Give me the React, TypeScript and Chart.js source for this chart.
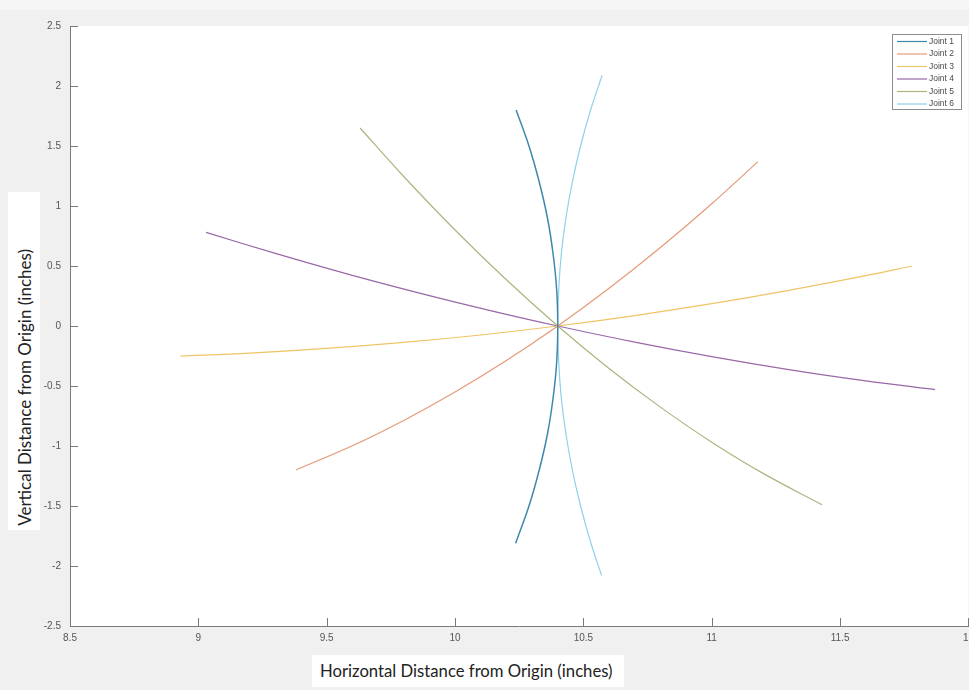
import React, { useEffect, useRef } from "react";
import { Chart, registerables } from "chart.js";

Chart.register(...registerables);

const seriesNames = ["Joint 1", "Joint 2", "Joint 3", "Joint 4", "Joint 5", "Joint 6"];
const seriesColors = ["#3f88ad", "#e49a76", "#efc466", "#9a68a8", "#aab67e", "#8fd0ea"];

const joint1X = [10.238, 10.288, 10.328, 10.36, 10.382, 10.396, 10.4, 10.396, 10.382, 10.36, 10.328, 10.288, 10.236];
const joint1Y = [1.8, 1.5, 1.2, 0.9, 0.6, 0.3, 0, -0.3, -0.6, -0.9, -1.2, -1.5, -1.81];

const joint2X = [9.38, 9.6, 9.8, 10.0, 10.2, 10.4, 10.6, 10.8, 11.0, 11.18];
const joint2Y = [-1.2, -0.998, -0.787, -0.55, -0.288, 0, 0.314, 0.654, 1.019, 1.37];

const joint3X = [8.93, 9.2, 9.5, 9.8, 10.1, 10.4, 10.7, 11.0, 11.3, 11.6, 11.78];
const joint3Y = [-0.25, -0.226, -0.187, -0.137, -0.075, 0, 0.087, 0.186, 0.297, 0.42, 0.5];

const joint4X = [9.03, 9.3, 9.6, 9.9, 10.15, 10.4, 10.7, 11.0, 11.3, 11.6, 11.87];
const joint4Y = [0.78, 0.605, 0.422, 0.253, 0.122, 0, -0.134, -0.255, -0.363, -0.457, -0.53];

const joint5X = [9.63, 9.8, 10.0, 10.2, 10.4, 10.6, 10.8, 11.0, 11.2, 11.43];
const joint5Y = [1.65, 1.246, 0.8, 0.385, 0, -0.354, -0.676, -0.968, -1.228, -1.49];

const joint6X = [10.573, 10.528, 10.489, 10.457, 10.432, 10.414, 10.404, 10.4, 10.404, 10.414, 10.432, 10.457, 10.489, 10.528, 10.571];
const joint6Y = [2.09, 1.8, 1.5, 1.2, 0.9, 0.6, 0.3, 0, -0.3, -0.6, -0.9, -1.2, -1.5, -1.8, -2.08];

const xTickValues = [8.5, 9, 9.5, 10, 10.5, 11, 11.5, 12];
const xTickLabels = ["8.5", "9", "9.5", "10", "10.5", "11", "11.5", "12"];
const yTickValues = [-2.5, -2, -1.5, -1, -0.5, 0, 0.5, 1, 1.5, 2, 2.5];
const yTickLabels = ["-2.5", "-2", "-1.5", "-1", "-0.5", "0", "0.5", "1", "1.5", "2", "2.5"];

const xTitle = "Horizontal Distance from Origin (inches)";
const yTitle = "Vertical Distance from Origin (inches)";

const allX = [joint1X, joint2X, joint3X, joint4X, joint5X, joint6X];
const allY = [joint1Y, joint2Y, joint3Y, joint4Y, joint5Y, joint6Y];

const whitePlot = {
  id: "whitePlot",
  beforeDraw(chart: any) {
    const { ctx, chartArea } = chart;
    ctx.save();
    ctx.fillStyle = "#ffffff";
    ctx.fillRect(chartArea.left, chartArea.top, chartArea.right - chartArea.left, chartArea.bottom - chartArea.top);
    ctx.restore();
  },
};

const inwardTicks = {
  id: "inwardTicks",
  afterDatasetsDraw(chart: any) {
    const { ctx, chartArea } = chart;
    const xs = chart.scales.x;
    const ys = chart.scales.y;
    ctx.save();
    ctx.strokeStyle = "#7a7a7a";
    ctx.lineWidth = 1;
    ctx.beginPath();
    xs.ticks.forEach((_t: any, i: number) => {
      const px = Math.round(xs.getPixelForTick(i)) + 0.5;
      ctx.moveTo(px, chartArea.bottom);
      ctx.lineTo(px, chartArea.bottom - 8);
    });
    ys.ticks.forEach((_t: any, i: number) => {
      const py = Math.round(ys.getPixelForTick(i)) + 0.5;
      ctx.moveTo(chartArea.left, py);
      ctx.lineTo(chartArea.left + 8, py);
    });
    ctx.stroke();
    ctx.restore();
  },
};

const boxLegend = {
  id: "boxLegend",
  afterDraw(chart: any) {
    const { ctx } = chart;
    const x0 = 892;
    const y0 = 34;
    const w = 69;
    const h = 75;
    ctx.save();
    ctx.fillStyle = "#ffffff";
    ctx.fillRect(x0, y0, w, h);
    ctx.strokeStyle = "#8c8c8c";
    ctx.lineWidth = 1;
    ctx.strokeRect(x0 + 0.5, y0 + 0.5, w, h);
    ctx.font = "8.5px Arial, 'Liberation Sans', sans-serif";
    ctx.textBaseline = "middle";
    ctx.textAlign = "left";
    chart.data.datasets.forEach((ds: any, i: number) => {
      const yy = y0 + 7.5 + i * 12.5;
      ctx.strokeStyle = ds.borderColor;
      ctx.lineWidth = 1.2;
      ctx.beginPath();
      ctx.moveTo(x0 + 5, yy);
      ctx.lineTo(x0 + 35, yy);
      ctx.stroke();
      ctx.fillStyle = "#4a4a4a";
      ctx.fillText(ds.label, x0 + 37, yy);
    });
    ctx.restore();
  },
};

export default function App() {
  const canvasRef = useRef<HTMLCanvasElement | null>(null);

  useEffect(() => {
    if (!canvasRef.current) return;
    const datasets = seriesNames.map((name, i) => ({
      label: name,
      data: allX[i].map((x, j) => ({ x, y: allY[i][j] })),
      borderColor: seriesColors[i],
      backgroundColor: seriesColors[i],
      borderWidth: i === 0 ? 1.5 : 1.2,
      showLine: true,
      pointRadius: 0,
      tension: 0.35,
      fill: false,
    }));
    const chart = new Chart(canvasRef.current, {
      type: "scatter",
      data: { datasets },
      options: {
        responsive: false,
        animation: false,
        layout: { padding: { top: 26, left: 0, right: 0, bottom: 0 } },
        plugins: {
          legend: { display: false },
          tooltip: { enabled: false },
        },
        scales: {
          x: {
            type: "linear",
            min: 8.5,
            max: 12,
            afterBuildTicks: (scale: any) => {
              scale.ticks = xTickValues.map((v) => ({ value: v }));
            },
            afterFit: (scale: any) => {
              scale.height = 64;
            },
            grid: { display: true, drawOnChartArea: false, drawTicks: false },
            border: { display: true, color: "#7a7a7a", width: 1 },
            ticks: {
              padding: 6,
              color: "#555555",
              font: { family: "Arial, 'Liberation Sans', sans-serif", size: 10 },
              maxRotation: 0,
              autoSkip: false,
              callback: (_v: any, i: number) => xTickLabels[i],
            },
          },
          y: {
            type: "linear",
            min: -2.5,
            max: 2.5,
            afterBuildTicks: (scale: any) => {
              scale.ticks = yTickValues.map((v) => ({ value: v }));
            },
            afterFit: (scale: any) => {
              scale.width = 70;
            },
            grid: { display: true, drawOnChartArea: false, drawTicks: false },
            border: { display: true, color: "#7a7a7a", width: 1 },
            ticks: {
              padding: 9,
              color: "#555555",
              font: { family: "Arial, 'Liberation Sans', sans-serif", size: 10 },
              autoSkip: false,
              callback: (_v: any, i: number) => yTickLabels[i],
            },
          },
        },
      },
      plugins: [whitePlot, inwardTicks, boxLegend],
    } as any);
    return () => chart.destroy();
  }, []);

  return (
    <div
      style={{
        position: "fixed",
        left: 0,
        top: 0,
        width: 969,
        height: 690,
        overflow: "hidden",
        background: "#f0f0f0",
      }}
    >
      <div style={{ position: "absolute", left: 0, top: 0, width: 969, height: 10, background: "#f6f6f6" }} />
      <canvas
        ref={canvasRef}
        width={980}
        height={690}
        style={{ position: "absolute", left: 0, top: 0, display: "block", width: 980, height: 690 }}
      />
      <div
        style={{
          position: "absolute",
          left: 8,
          top: 192,
          width: 32,
          height: 338,
          background: "#ffffff",
          display: "flex",
          flexDirection: "column",
          alignItems: "center",
          justifyContent: "flex-end",
          paddingBottom: 4,
          boxSizing: "border-box",
        }}
      >
        <span
          style={{
            writingMode: "vertical-rl",
            transform: "rotate(180deg)",
            fontFamily: "Lato, 'Open Sans', sans-serif",
            fontSize: 17,
            color: "#222222",
            whiteSpace: "nowrap",
          }}
        >
          {yTitle}
        </span>
      </div>
      <div
        style={{
          position: "absolute",
          left: 312,
          top: 655,
          width: 312,
          height: 32,
          background: "#ffffff",
          display: "flex",
          alignItems: "center",
          paddingLeft: 8,
          boxSizing: "border-box",
        }}
      >
        <span
          style={{
            fontFamily: "Lato, 'Open Sans', sans-serif",
            fontSize: 16.7,
            color: "#222222",
            whiteSpace: "nowrap",
          }}
        >
          {xTitle}
        </span>
      </div>
    </div>
  );
}
